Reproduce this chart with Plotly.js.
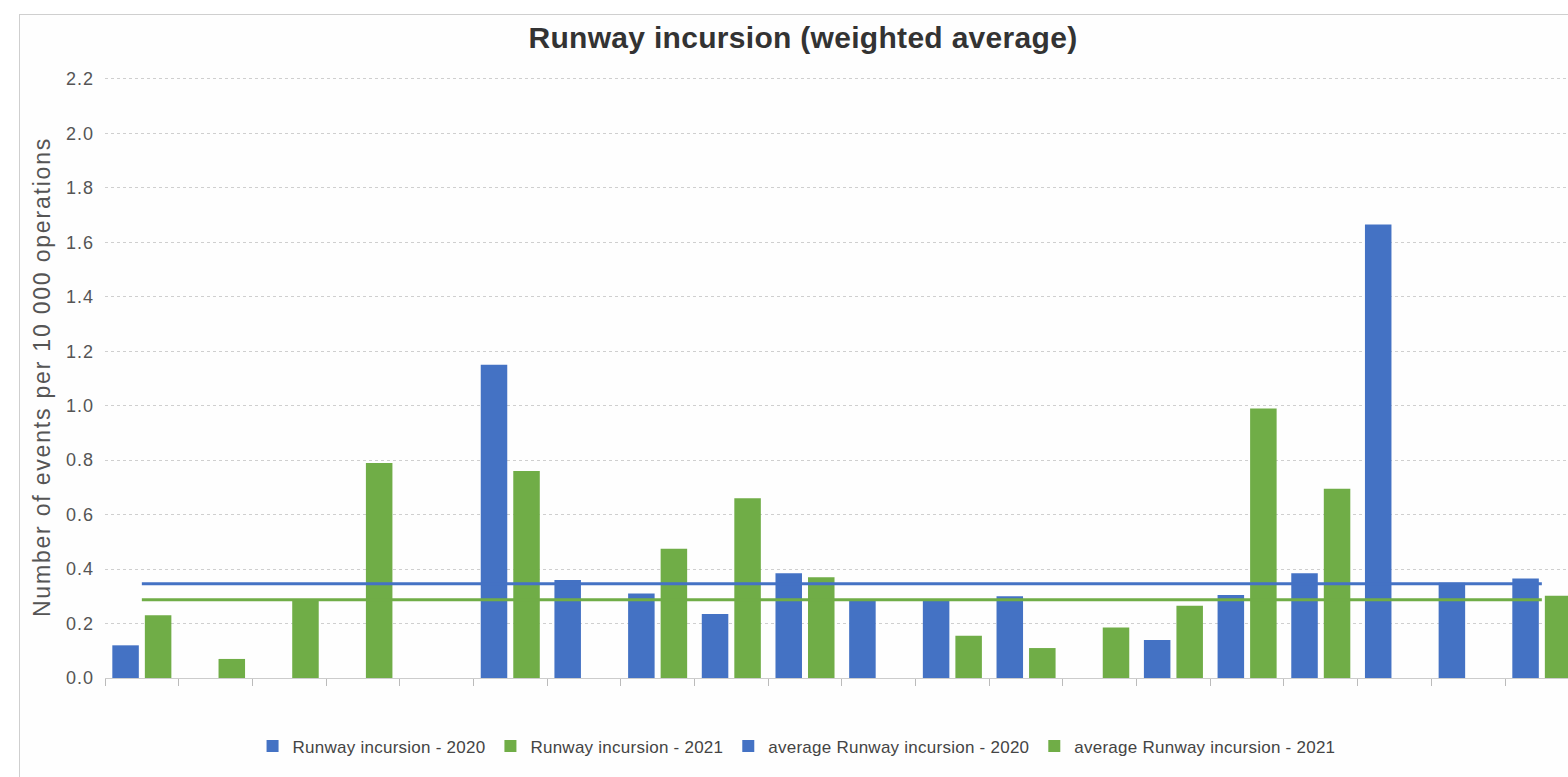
<!DOCTYPE html>
<html>
<head>
<meta charset="utf-8">
<script src="https://cdn.plot.ly/plotly-3.0.1.min.js"></script>
<style>
  html, body { margin: 0; padding: 0; background: #ffffff; overflow: hidden; width: 1568px; height: 777px; }
  #frame { position: absolute; left: 19px; top: 14px; width: 1600px; height: 800px; border: 1px solid #cfcfcf; background: #fefefe; }
  #chart { position: absolute; left: 20px; top: 15px; width: 1548px; height: 762px; }
  .gtitle { letter-spacing: 0.3px; }
  .ytitle { letter-spacing: 1.8px; }
  .ytick text { letter-spacing: 1.0px; }
  .legendtext { letter-spacing: 0.25px; }
</style>
</head>
<body>
<div id="frame"></div>
<div id="chart"></div>
<script>
// Category labels are not legible in the reference (blanked out)
const categories = ["State 1","State 2","State 3","State 4","State 5","State 6","State 7","State 8","State 9","State 10",
                    "State 11","State 12","State 13","State 14","State 15","State 16","State 17","State 18","State 19","State 20"];
const values2020 = [0.12, null, null, null, null, 1.15, 0.36, 0.31, 0.235, 0.385, 0.285, 0.285, 0.30, null, 0.14, 0.305, 0.385, 1.665, 0.35, 0.365];
const values2021 = [0.23, 0.07, 0.285, 0.79, null, 0.76, null, 0.475, 0.66, 0.37, null, 0.155, 0.11, 0.185, 0.265, 0.99, 0.695, null, null, 0.302];
const average2020 = 0.346;
const average2021 = 0.287;
const seriesNames = ["Runway incursion - 2020", "Runway incursion - 2021", "average Runway incursion - 2020", "average Runway incursion - 2021"];
const colors = ["#4472C4", "#70AD47"];

const traces = [
  { type: "bar", name: seriesNames[0], x: categories, y: values2020, marker: { color: colors[0] }, showlegend: true },
  { type: "bar", name: seriesNames[1], x: categories, y: values2021, marker: { color: colors[1] }, showlegend: true },
  { type: "scatter", mode: "lines", name: seriesNames[2], x: categories, y: categories.map(() => average2020),
    line: { color: colors[0], width: 3 }, showlegend: false },
  { type: "scatter", mode: "lines", name: seriesNames[3], x: categories, y: categories.map(() => average2021),
    line: { color: colors[1], width: 3 }, showlegend: false },
  // legend entries for the average lines (square symbols as in the reference)
  { type: "scatter", mode: "markers", name: seriesNames[2], x: [null], y: [null],
    marker: { color: colors[0], symbol: "square", size: 12 }, showlegend: true },
  { type: "scatter", mode: "markers", name: seriesNames[3], x: [null], y: [null],
    marker: { color: colors[1], symbol: "square", size: 12 }, showlegend: true }
];

const layout = {
  width: 1548, height: 762,
  margin: { l: 85, r: 0, t: 61, b: 99 },
  paper_bgcolor: "rgba(0,0,0,0)",
  plot_bgcolor: "rgba(0,0,0,0)",
  font: { family: "Liberation Sans, Arial, sans-serif", color: "#555" },
  title: {
    text: "<b>Runway incursion (weighted average)</b>",
    font: { size: 30, color: "#333", family: "Liberation Sans, Arial, sans-serif" },
    xref: "container", x: 0.5058, xanchor: "center",
    yref: "container", y: 0.97, yanchor: "middle"
  },
  barmode: "group",
  bargap: 0.117,
  bargroupgap: 0.185,
  xaxis: {
    type: "category",
    range: [-0.5, 19.355],
    showticklabels: false,
    tickson: "boundaries",
    ticks: "outside", ticklen: 7, tickcolor: "#bbbbbb", tickwidth: 1,
    showline: true, linecolor: "#cccccc", linewidth: 1,
    showgrid: false, zeroline: false, fixedrange: true
  },
  yaxis: {
    range: [0, 2.2108],
    dtick: 0.2, tick0: 0,
    tickformat: ".1f",
    tickfont: { size: 18, color: "#555" },
    ticks: "", ticklabelstandoff: 10,
    showgrid: true, gridcolor: "#cfcfcf", griddash: "dot", gridwidth: 1,
    zeroline: false, showline: false,
    title: { text: "Number of events per 10 000 operations", font: { size: 23, color: "#555" }, standoff: 8 },
    fixedrange: true
  },
  legend: {
    orientation: "h",
    x: 0.4727, xanchor: "center",
    y: -0.1135, yanchor: "middle",
    font: { size: 17, color: "#444" },
    bgcolor: "rgba(0,0,0,0)",
    traceorder: "normal",
    itemclick: false, itemdoubleclick: false
  },
  showlegend: true
};

Plotly.newPlot("chart", traces, layout, { displayModeBar: false, staticPlot: true });
</script>
</body>
</html>
